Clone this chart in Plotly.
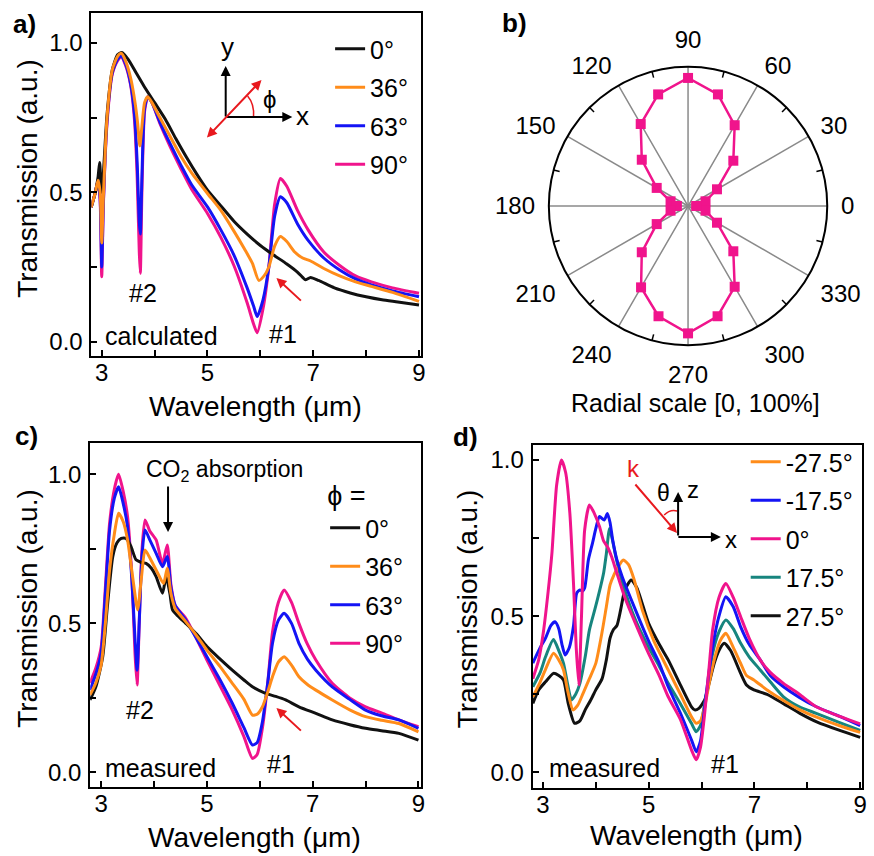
import plotly.graph_objects as go

W, H = 874, 856
FONT = "Liberation Sans, Arial, sans-serif"

BLACK = "#111111"
ORANGE = "#FF8C1A"
BLUE = "#1414F5"
PINK = "#F0148C"
TEAL = "#17857E"
RED = "#E8191E"

# ---------------- Panel a (calculated) ----------------
a_names = ["0°", "36°", "63°", "90°"]
a_x_0 = [2.8, 2.88, 2.93, 2.96, 2.98, 3.0, 3.03, 3.1, 3.2, 3.3, 3.38, 3.5, 3.65, 3.8, 4.0,
         4.2, 4.4, 4.6, 4.8, 5.0, 5.25, 5.5, 5.75, 6.0, 6.25, 6.5, 6.7, 6.8, 6.85, 6.95,
         7.1, 7.4, 7.7, 8.0, 8.3, 8.6, 9.0]
a_y_0 = [0.45, 0.5, 0.55, 0.6, 0.55, 0.5, 0.56, 0.76, 0.91, 0.96, 0.968, 0.945, 0.9, 0.855,
         0.8, 0.745, 0.68, 0.618, 0.56, 0.507, 0.455, 0.403, 0.36, 0.322, 0.29, 0.26, 0.233,
         0.215, 0.207, 0.215, 0.205, 0.18, 0.163, 0.15, 0.14, 0.133, 0.123]
a_x_36 = [2.8, 2.88, 2.93, 2.97, 3.0, 3.03, 3.1, 3.2, 3.3, 3.37, 3.45, 3.55, 3.63, 3.68, 3.72,
          3.76, 3.81, 3.87, 3.95, 4.1, 4.3, 4.5, 4.7, 5.0, 5.25, 5.5, 5.7, 5.85, 5.97, 6.07,
          6.16, 6.27, 6.38, 6.5, 6.65, 6.8, 6.95, 7.2, 7.5, 7.8, 8.1, 8.5, 9.0]
a_y_36 = [0.45, 0.5, 0.54, 0.5, 0.33, 0.48, 0.75, 0.91, 0.955, 0.965, 0.94, 0.88, 0.8, 0.73,
          0.655, 0.72, 0.8, 0.82, 0.8, 0.75, 0.685, 0.62, 0.565, 0.496, 0.44, 0.37, 0.31,
          0.262, 0.205, 0.22, 0.25, 0.32, 0.352, 0.335, 0.3, 0.28, 0.27, 0.245, 0.22, 0.2,
          0.185, 0.165, 0.135]
a_x_63 = [2.8, 2.88, 2.93, 2.97, 3.0, 3.03, 3.1, 3.2, 3.3, 3.37, 3.45, 3.55, 3.62, 3.67, 3.71,
          3.73, 3.76, 3.81, 3.87, 3.95, 4.1, 4.3, 4.5, 4.7, 5.0, 5.25, 5.5, 5.75, 5.87, 5.94,
          6.05, 6.16, 6.27, 6.38, 6.5, 6.7, 6.9, 7.2, 7.5, 7.8, 8.1, 8.5, 9.0]
a_y_63 = [0.45, 0.5, 0.54, 0.48, 0.25, 0.46, 0.74, 0.9, 0.945, 0.955, 0.93, 0.86, 0.76, 0.6,
          0.4, 0.36, 0.55, 0.78, 0.82, 0.8, 0.735, 0.66, 0.59, 0.525, 0.451, 0.375, 0.29,
          0.18, 0.12, 0.084, 0.14, 0.25, 0.42, 0.485, 0.465, 0.395, 0.34, 0.28, 0.24, 0.21,
          0.19, 0.17, 0.15]
a_x_90 = a_x_63
a_y_90 = [0.45, 0.5, 0.54, 0.47, 0.217, 0.45, 0.73, 0.895, 0.94, 0.953, 0.925, 0.855, 0.74,
          0.55, 0.3, 0.229, 0.5, 0.77, 0.82, 0.8, 0.73, 0.65, 0.578, 0.51, 0.429, 0.35, 0.255,
          0.13, 0.06, 0.03, 0.11, 0.25, 0.46, 0.546, 0.52, 0.44, 0.375, 0.3, 0.255, 0.22, 0.2,
          0.18, 0.162]

# ---------------- Panel b (polar) ----------------
b_theta = [0, 15, 30, 45, 60, 75, 90, 105, 120, 135, 150, 165, 180, 195, 210, 225, 240, 255,
           270, 285, 300, 315, 330, 345, 360]
b_r = [0.06, 0.13, 0.24, 0.46, 0.67, 0.83, 0.92, 0.83, 0.68, 0.47, 0.26, 0.13, 0.08, 0.13,
       0.26, 0.47, 0.675, 0.82, 0.915, 0.82, 0.67, 0.46, 0.24, 0.13, 0.06]
b_tick_vals = [0, 30, 60, 90, 120, 150, 180, 210, 240, 270, 300, 330]
b_tick_text = ["0", "30", "60", "90", "120", "150", "180", "210", "240", "270", "300", "330"]
b_grid_angles = [0, 30, 60, 90, 120, 150]
b_minor_tick_angles = [15, 45, 75, 105, 135, 165, 195, 225, 255, 285, 315, 345]

# ---------------- Panel c (measured, phi) ----------------
c_x_0 = [2.79, 2.9, 3.03, 3.12, 3.22, 3.3, 3.38, 3.47, 3.56, 3.66, 3.75, 3.85, 3.95, 4.04,
         4.16, 4.23, 4.3, 4.35, 4.45, 4.6, 4.8, 5.0, 5.25, 5.48, 5.7, 5.86, 6.11, 6.3, 6.49,
         6.74, 7.06, 7.37, 7.7, 8.0, 8.3, 8.63, 9.0]
c_y_0 = [0.243, 0.287, 0.388, 0.56, 0.724, 0.77, 0.785, 0.785, 0.76, 0.713, 0.705, 0.701,
         0.685, 0.657, 0.601, 0.657, 0.6, 0.545, 0.525, 0.5, 0.465, 0.422, 0.38, 0.343, 0.31,
         0.287, 0.265, 0.255, 0.243, 0.22, 0.198, 0.176, 0.16, 0.148, 0.14, 0.131, 0.108]
c_x_36 = [2.79, 2.9, 3.0, 3.08, 3.16, 3.25, 3.33, 3.42, 3.5, 3.6, 3.69, 3.76, 3.83, 3.92, 4.04,
          4.18, 4.25, 4.32, 4.4, 4.6, 4.8, 5.0, 5.25, 5.48, 5.7, 5.86, 5.95, 6.05, 6.15, 6.24,
          6.35, 6.46, 6.6, 6.74, 6.9, 7.06, 7.37, 7.7, 8.0, 8.3, 8.63, 9.0]
c_y_36 = [0.26, 0.3, 0.36, 0.5, 0.679, 0.8, 0.869, 0.84, 0.78, 0.65, 0.545, 0.65, 0.746, 0.72,
          0.679, 0.634, 0.685, 0.6, 0.55, 0.506, 0.46, 0.41, 0.355, 0.299, 0.245, 0.192, 0.195,
          0.22, 0.27, 0.321, 0.37, 0.388, 0.36, 0.321, 0.295, 0.276, 0.243, 0.21, 0.187, 0.175,
          0.164, 0.136]
c_x_63 = [2.79, 2.9, 3.0, 3.08, 3.16, 3.25, 3.33, 3.42, 3.5, 3.58, 3.64, 3.68, 3.72, 3.77, 3.83,
          3.92, 4.04, 4.16, 4.25, 4.32, 4.4, 4.6, 4.8, 5.0, 5.25, 5.48, 5.7, 5.86, 5.95, 6.05,
          6.15, 6.24, 6.35, 6.46, 6.6, 6.74, 6.9, 7.06, 7.37, 7.7, 8.0, 8.3, 8.63, 9.0]
c_y_63 = [0.276, 0.33, 0.4, 0.6, 0.813, 0.92, 0.958, 0.9, 0.824, 0.65, 0.45, 0.343, 0.5, 0.72,
          0.813, 0.78, 0.735, 0.69, 0.724, 0.62, 0.56, 0.511, 0.45, 0.388, 0.31, 0.232, 0.15,
          0.092, 0.1, 0.17, 0.3, 0.433, 0.51, 0.534, 0.5, 0.433, 0.38, 0.343, 0.287, 0.245,
          0.209, 0.19, 0.176, 0.148]
c_x_90 = c_x_63
c_y_90 = [0.3, 0.35, 0.42, 0.62, 0.836, 0.95, 1.0, 0.94, 0.858, 0.66, 0.4, 0.293, 0.5, 0.74,
          0.847, 0.81, 0.78, 0.70, 0.763, 0.63, 0.56, 0.517, 0.45, 0.377, 0.29, 0.209, 0.12,
          0.047, 0.06, 0.15, 0.3, 0.47, 0.57, 0.612, 0.57, 0.5, 0.43, 0.377, 0.299, 0.25, 0.22,
          0.2, 0.176, 0.153]

# ---------------- Panel d (measured, theta) ----------------
d_names = ["-27.5°", "-17.5°", "0°", "17.5°", "27.5°"]
d_x_m275 = [2.81, 2.95, 3.05, 3.2, 3.3, 3.39, 3.47, 3.57, 3.66, 3.76, 3.88, 4.0, 4.12, 4.2,
            4.27, 4.35, 4.43, 4.52, 4.62, 4.72, 4.88, 5.1, 5.37, 5.6, 5.81, 5.9, 5.98, 6.06,
            6.15, 6.24, 6.35, 6.46, 6.6, 6.74, 6.85, 6.99, 7.24, 7.55, 7.86, 8.2, 8.6, 9.0]
d_y_m275 = [0.242, 0.29, 0.33, 0.381, 0.36, 0.328, 0.26, 0.2, 0.215, 0.253, 0.3, 0.349, 0.45,
            0.53, 0.6, 0.635, 0.66, 0.68, 0.665, 0.62, 0.52, 0.42, 0.328, 0.25, 0.178, 0.157,
            0.165, 0.21, 0.29, 0.36, 0.42, 0.445, 0.4, 0.349, 0.31, 0.296, 0.264, 0.23, 0.2,
            0.175, 0.15, 0.128]
d_x_m175 = [2.81, 2.95, 3.05, 3.15, 3.23, 3.3, 3.36, 3.42, 3.5, 3.58, 3.64, 3.7, 3.75, 3.79,
            3.86, 3.94, 4.0, 4.07, 4.16, 4.22, 4.27, 4.32, 4.4, 4.5, 4.75, 5.0, 5.2, 5.37, 5.6,
            5.81, 5.9, 5.98, 6.06, 6.14, 6.21, 6.33, 6.46, 6.6, 6.74, 6.9, 7.11, 7.3, 7.55,
            7.85, 8.17, 8.6, 9.0]
d_y_m175 = [0.35, 0.4, 0.43, 0.47, 0.482, 0.46, 0.41, 0.376, 0.4, 0.47, 0.574, 0.584, 0.58,
            0.59, 0.68, 0.735, 0.78, 0.819, 0.808, 0.829, 0.8, 0.744, 0.68, 0.626, 0.52, 0.42,
            0.35, 0.274, 0.19, 0.104, 0.066, 0.1, 0.21, 0.32, 0.402, 0.5, 0.562, 0.53, 0.466,
            0.41, 0.36, 0.31, 0.274, 0.24, 0.21, 0.18, 0.15]
d_x_0 = [2.81, 2.92, 3.01, 3.1, 3.17, 3.26, 3.35, 3.43, 3.51, 3.58, 3.63, 3.68, 3.73, 3.79,
         3.88, 3.97, 4.07, 4.15, 4.22, 4.3, 4.38, 4.55, 4.75, 5.0, 5.2, 5.37, 5.6, 5.81, 5.9,
         5.98, 6.06, 6.14, 6.21, 6.33, 6.46, 6.6, 6.74, 6.9, 7.11, 7.3, 7.55, 7.85, 8.17, 8.6,
         9.0]
d_y_0 = [0.3, 0.36, 0.45, 0.58, 0.7, 0.92, 1.0, 0.96, 0.829, 0.6, 0.4, 0.28, 0.5, 0.776,
         0.856, 0.83, 0.787, 0.74, 0.722, 0.69, 0.648, 0.56, 0.477, 0.38, 0.31, 0.242, 0.17,
         0.072, 0.04, 0.08, 0.189, 0.33, 0.456, 0.56, 0.605, 0.56, 0.498, 0.43, 0.36, 0.32,
         0.285, 0.25, 0.21, 0.18, 0.155]
d_x_175 = [2.81, 2.95, 3.05, 3.2, 3.3, 3.39, 3.47, 3.54, 3.62, 3.7, 3.8, 3.88, 3.98, 4.07,
           4.15, 4.2, 4.26, 4.32, 4.38, 4.5, 4.75, 5.0, 5.2, 5.37, 5.6, 5.81, 5.9, 5.98, 6.06,
           6.14, 6.21, 6.33, 6.46, 6.6, 6.74, 6.9, 7.11, 7.3, 7.55, 7.85, 8.17, 8.6, 9.0]
d_y_175 = [0.274, 0.32, 0.37, 0.425, 0.39, 0.349, 0.28, 0.232, 0.25, 0.285, 0.37, 0.456, 0.52,
           0.58, 0.64, 0.7, 0.781, 0.74, 0.69, 0.61, 0.488, 0.4, 0.34, 0.285, 0.22, 0.157, 0.13,
           0.15, 0.221, 0.3, 0.381, 0.45, 0.488, 0.46, 0.413, 0.37, 0.328, 0.29, 0.242, 0.21,
           0.189, 0.16, 0.134]
d_x_275 = [2.81, 2.92, 3.05, 3.2, 3.3, 3.39, 3.48, 3.6, 3.7, 3.8, 3.9, 4.0, 4.12, 4.2, 4.27,
           4.33, 4.4, 4.47, 4.55, 4.67, 4.78, 5.0, 5.2, 5.37, 5.6, 5.81, 5.87, 5.95, 6.06, 6.15,
           6.24, 6.33, 6.43, 6.55, 6.74, 6.85, 6.99, 7.24, 7.55, 7.86, 8.2, 8.6, 9.0]
d_y_275 = [0.221, 0.264, 0.29, 0.317, 0.31, 0.296, 0.22, 0.157, 0.165, 0.2, 0.23, 0.264, 0.3,
           0.36, 0.43, 0.456, 0.47, 0.52, 0.584, 0.616, 0.59, 0.477, 0.41, 0.36, 0.28, 0.21,
           0.2, 0.205, 0.232, 0.29, 0.349, 0.39, 0.413, 0.39, 0.317, 0.28, 0.264, 0.25, 0.22,
           0.189, 0.16, 0.135, 0.112]


def px(x):
    return x / W


def py(y):
    return 1 - y / H


fig = go.Figure()


def curve(x, y, color, name, xa, ya, legend, rank):
    fig.add_trace(go.Scatter(
        x=x, y=y, mode="lines", name=name, xaxis=xa, yaxis=ya,
        line=dict(color=color, width=3, shape="spline", smoothing=0.6),
        legend=legend, legendrank=rank, legendgroup=f"{legend}_{rank}",
        hoverinfo="skip"))


# panel a
curve(a_x_90, a_y_90, PINK, a_names[3], "x", "y", "legend", 4)
curve(a_x_63, a_y_63, BLUE, a_names[2], "x", "y", "legend", 3)
curve(a_x_0, a_y_0, BLACK, a_names[0], "x", "y", "legend", 1)
curve(a_x_36, a_y_36, ORANGE, a_names[1], "x", "y", "legend", 2)
# panel c
curve(c_x_90, c_y_90, PINK, a_names[3], "x2", "y2", "legend2", 4)
curve(c_x_63, c_y_63, BLUE, a_names[2], "x2", "y2", "legend2", 3)
curve(c_x_0, c_y_0, BLACK, a_names[0], "x2", "y2", "legend2", 1)
curve(c_x_36, c_y_36, ORANGE, a_names[1], "x2", "y2", "legend2", 2)
# panel d
curve(d_x_275, d_y_275, BLACK, d_names[4], "x3", "y3", "legend3", 5)
curve(d_x_175, d_y_175, TEAL, d_names[3], "x3", "y3", "legend3", 4)
curve(d_x_m275, d_y_m275, ORANGE, d_names[0], "x3", "y3", "legend3", 1)
curve(d_x_m175, d_y_m175, BLUE, d_names[1], "x3", "y3", "legend3", 2)
curve(d_x_0, d_y_0, PINK, d_names[2], "x3", "y3", "legend3", 3)

# panel b: grid spokes, intermediate ticks, data
g_r, g_t = [], []
for a in b_grid_angles:
    g_r += [1, 0, 1, None]
    g_t += [a, a, a + 180, None]
fig.add_trace(go.Scatterpolar(r=g_r, theta=g_t, mode="lines", showlegend=False,
                              line=dict(color="#8a8a8a", width=1.5), hoverinfo="skip"))
t_r, t_t = [], []
for a in b_minor_tick_angles:
    t_r += [0.955, 1, None]
    t_t += [a, a, None]
fig.add_trace(go.Scatterpolar(r=t_r, theta=t_t, mode="lines", showlegend=False,
                              line=dict(color="black", width=1.5), hoverinfo="skip"))
fig.add_trace(go.Scatterpolar(r=b_r, theta=b_theta, mode="lines+markers", showlegend=False,
                              line=dict(color=PINK, width=2.5),
                              marker=dict(symbol="square", size=10, color=PINK),
                              hoverinfo="skip"))

ax_common = dict(showline=True, linecolor="black", linewidth=2, mirror=True,
                 ticks="inside", ticklen=6, tickwidth=2, tickcolor="black",
                 showgrid=False, zeroline=False,
                 tickfont=dict(size=24, color="black", family=FONT))
x_common = dict(tickmode="linear", tick0=3, dtick=2, ticklabelstandoff=-6,
                minor=dict(tick0=3, dtick=1, ticks="inside", ticklen=6, tickwidth=2,
                           tickcolor="black"), **ax_common)
y_common = dict(tickmode="linear", tick0=0, dtick=0.5, tickformat=".1f",
                ticklabelstandoff=2,
                minor=dict(tick0=0, dtick=0.25, ticks="inside", ticklen=6, tickwidth=2,
                           tickcolor="black"), **ax_common)

leg_common = dict(xanchor="left", yanchor="top", bgcolor="rgba(0,0,0,0)",
                  font=dict(size=25, color="black", family=FONT), itemwidth=30,
                  tracegroupgap=3, borderwidth=0)

annos = []


def text(x, y, s, size=25, color="black", **kw):
    annos.append(dict(x=px(x), y=py(y), xref="paper", yref="paper", text=s,
                      showarrow=False, font=dict(size=size, color=color, family=FONT),
                      xanchor="center", yanchor="middle", **kw))


def arrow(x0, y0, x1, y1, color, width=2, both=False):
    annos.append(dict(x=px(x1), y=py(y1), ax=x0 - x1, ay=y0 - y1, xref="paper",
                      yref="paper", axref="pixel", ayref="pixel", text="",
                      showarrow=True, arrowhead=2, arrowsize=1, arrowwidth=width,
                      arrowcolor=color, arrowside="end+start" if both else "end",
                      standoff=0, startstandoff=0, startarrowhead=2, startarrowsize=1))


# panel labels
text(25, 24, "<b>a)</b>", size=26)
text(517, 23, "<b>b)</b>", size=26)
text(27, 436, "<b>c)</b>", size=26)
text(468, 437, "<b>d)</b>", size=26)

# axis titles
for cx, cy in [(257, 406), (256, 837), (701, 835)]:
    text(cx, cy, "Wavelength (μm)", size=28)
for cx, cy in [(28, 178), (27, 608), (470, 609)]:
    text(cx, cy, "Transmission (a.u.)", size=28, textangle=-90)

# panel a annotations
text(144, 293, "#2")
text(285, 334, "#1")
text(162, 336, "calculated")
arrow(304, 302, 278, 278, RED)
arrow(227, 118, 227, 66, "black")
arrow(226, 117, 294, 117, "black")
text(229, 47, "y", size=26)
text(304, 116, "x", size=26)
arrow(207, 139, 263, 80, RED, both=True)
text(271, 100, "ϕ", size=24)

# panel b title
text(700, 403, "Radial scale [0, 100%]", size=25)

# panel c annotations
text(226, 470, "CO<sub>2</sub> absorption", size=23)
arrow(169, 485, 169, 532, "black")
text(141, 710, "#2")
text(283, 764, "#1")
text(161, 768, "measured")
arrow(304, 732, 278, 708, RED)

# panel d annotations
text(608, 768, "measured")
text(729, 764, "#1")
text(637, 468, "k", size=24, color=RED)
arrow(638, 483, 681, 533, RED)
arrow(682, 537, 682, 492, "black")
arrow(681, 537, 725, 537, "black")
text(697, 489, "z", size=24)
text(735, 539, "x", size=24)
text(667, 493, "θ", size=23)

shapes = [
    dict(type="path", xref="paper", yref="paper",
         path=f"M {px(249)},{py(96)} Q {px(256)},{py(104)} {px(255)},{py(117)}",
         line=dict(color=RED, width=1.5)),
    dict(type="path", xref="paper", yref="paper",
         path=f"M {px(668)},{py(515)} Q {px(674)},{py(509)} {px(681)},{py(511)}",
         line=dict(color=RED, width=1.5)),
]

fig.update_layout(
    width=W, height=H, margin=dict(l=0, r=0, t=0, b=0),
    paper_bgcolor="white", plot_bgcolor="white",
    font=dict(family=FONT, color="black"),
    hovermode=False,
    xaxis=dict(domain=[px(92), px(423)], range=[2.806, 9.03], anchor="y", **x_common),
    yaxis=dict(domain=[py(356), py(13)], range=[-0.048, 1.1], anchor="x", **y_common),
    xaxis2=dict(domain=[px(90.7), px(423)], range=[2.793, 9.04], anchor="y2", **x_common),
    yaxis2=dict(domain=[py(787.3), py(443.3)], range=[-0.05, 1.104], anchor="x2", **y_common),
    xaxis3=dict(domain=[px(535.7), px(866.7)], range=[2.806, 9.03], anchor="y3", **x_common),
    yaxis3=dict(domain=[py(788.3), py(445)], range=[-0.051, 1.048], anchor="x3", **y_common),
    polar=dict(
        domain=dict(x=[px(552), px(832)], y=[py(346), py(66)]),
        bgcolor="white",
        radialaxis=dict(visible=False, range=[0, 1]),
        angularaxis=dict(tickmode="array", tickvals=b_tick_vals, ticktext=b_tick_text,
                         ticks="outside", ticklen=8, tickwidth=1,
                         tickcolor="rgba(0,0,0,0)",
                         showgrid=False, showline=True, linecolor="black", linewidth=2,
                         tickfont=dict(size=24, color="black", family=FONT),
                         rotation=0, direction="counterclockwise"),
    ),
    legend=dict(x=px(332), y=py(26), **leg_common),
    legend2=dict(x=px(327), y=py(470), title=dict(text="ϕ =", font=dict(size=27)),
                 **leg_common),
    legend3=dict(x=px(750), y=py(439), **leg_common),
    annotations=annos,
    shapes=shapes,
)

fig.write_html("out.html",
               config={"displayModeBar": False, "staticPlot": True},
               post_script="document.body.style.margin='0px';"
                           "document.body.style.overflow='hidden';")
